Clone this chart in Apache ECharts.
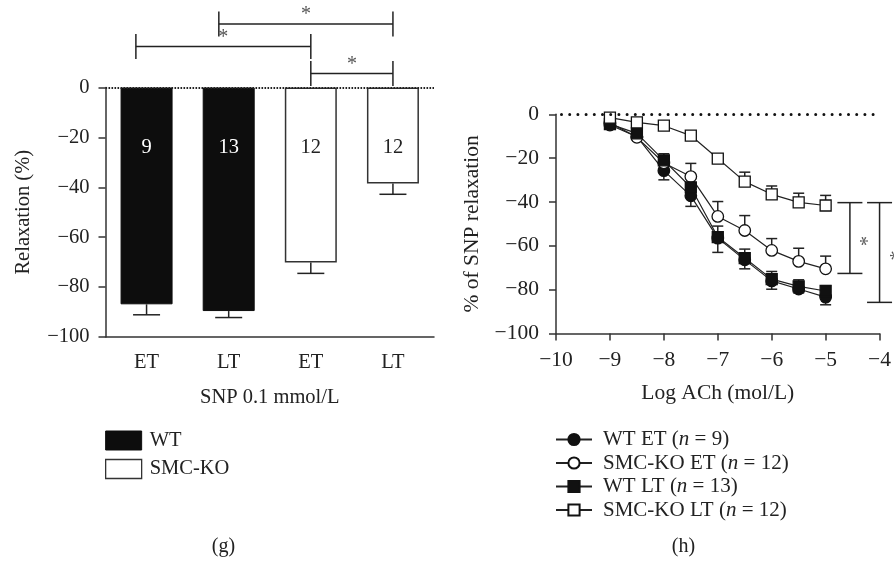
<!DOCTYPE html>
<html>
<head>
<meta charset="UTF-8"/>
<title>relaxation</title>
<script src="https://cdn.jsdelivr.net/npm/echarts@6/dist/echarts.min.js"></script>
<style>
    html, body { margin: 0; background: #fff; }
    #main { width: 894px; height: 567px; }
</style>
</head>
<body>
<div id="main"></div>
<script>
// ---- panel (g): SNP bars ----
var barCats = ['ET', 'LT', 'ET', 'LT'];
var wtBars = [-86.9, -89.6, '-', '-'];
var koBars = ['-', '-', -70.1, -38.5];
var barErr = [4.2, 2.6, 4.4, 4.3];
var barN = [9, 13, 12, 12];
var yTicksG = [0, -20, -40, -60, -80, -100];
// brackets: [from, to, level]
var sigG = [[0.88, 3, 25.5], [-0.13, 2, 16.4], [2, 3, 5.6]];

// ---- panel (h): ACh curves ----
var logAch = [-9, -8.5, -8, -7.5, -7, -6.5, -6, -5.5, -5];
var xTicksH = [-10, -9, -8, -7, -6, -5, -4];
var lineNames = ['WT ET', 'SMC-KO ET', 'WT LT', 'SMC-KO LT'];
var nCounts = [9, 12, 13, 12];
var wtEt = [-4.9, -10.2, -25.7, -37.2, -56.5, -66.4, -76.0, -79.7, -83.4];
var koEt = [-3.8, -10.5, -22.2, -28.4, -46.6, -53.0, -62.1, -67.1, -70.5];
var wtLt = [-4.5, -8.7, -21.0, -33.3, -56.0, -65.6, -75.2, -78.5, -80.6];
var koLt = [-1.5, -3.7, -5.2, -9.7, -20.2, -30.7, -36.5, -40.2, -41.6];
var wtEtErr = [1, 1, 4.2, 4.8, 6.5, 4.1, 3.8, 1.8, 3.5];
var koEtErr = [1, 1, 2, 6, 6.8, 6.8, 5.4, 6, 5.8];
var wtLtErr = [1, 1, 3, 4, 5, 4.1, 3.5, 3, 2.4];
var koLtErr = [1, 1, 1, 1, 1.5, 4.3, 3.8, 4.2, 4.6];
var errDir = [-1, 1, 1, 1];
// brackets: [x, from, to]
var sigH = [[-4.55, -40.3, -72.6], [-4.0, -40.3, -85.8]];

var FONT = 'Liberation Serif';
var INK = '#222';
var FS_G = 20.5;
var FS_H = 21.5;

function minus(v) {
    return v < 0 ? '\u2212' + (-v) : String(v);
}

var chart = echarts.init(document.getElementById('main'));

var curves = [wtEt, koEt, wtLt, koLt];
var curveErr = [wtEtErr, koEtErr, wtLtErr, koLtErr];
var filled = [true, false, true, false];
var shapes = ['circle', 'circle', 'rect', 'rect'];

var lineSeries = lineNames.map(function (name, k) {
    var s = {
        name: name,
        type: 'line',
        xAxisIndex: 2,
        yAxisIndex: 1,
        data: logAch.map(function (x, i) { return [x, curves[k][i]]; }),
        symbol: shapes[k],
        symbolSize: shapes[k] === 'rect' ? 11 : 11.5,
        lineStyle: { color: INK, width: 1.2 },
        itemStyle: {
            color: filled[k] ? '#111' : '#fff',
            borderColor: '#111',
            borderWidth: 1.3
        },
        emphasis: { disabled: true },
        z: 4,
        animation: false
    };
    if (k === 0) {
        s.markLine = {
            silent: true,
            symbol: 'none',
            label: { show: false },
            lineStyle: { color: '#111', width: 3, type: [0, 8.2], cap: 'round', dashOffset: -5.5 },
            data: [{ yAxis: 0 }]
        };
    }
    return s;
});

var errDataH = [];
curves.forEach(function (c, k) {
    c.forEach(function (v, i) {
        errDataH.push([logAch[i], v, curveErr[k][i], errDir[k]]);
    });
});

function seg(x1, y1, x2, y2) {
    return {
        type: 'line',
        shape: { x1: x1, y1: y1, x2: x2, y2: y2 },
        style: { stroke: INK, lineWidth: 1.5 }
    };
}

function star(x, y, rot) {
    return {
        type: 'text',
        x: x, y: y,
        rotation: rot || 0,
        style: {
            text: '*', fill: '#555',
            font: '20px "' + FONT + '"',
            align: 'center', verticalAlign: 'middle'
        }
    };
}

var axisLineStyle = { color: '#333', width: 1.5 };

var option = {
    animation: false,
    textStyle: { fontFamily: FONT, color: INK },
    grid: [
        { left: 105.5, top: 87.5, width: 328.5, height: 249.5 },
        { left: 556, top: 114.3, width: 328.5, height: 219.2 }
    ],
    xAxis: [
        {
            type: 'category', gridIndex: 0, data: barCats,
            name: 'SNP 0.1 mmol/L', nameLocation: 'middle', nameGap: 50,
            nameTextStyle: { fontSize: FS_G, color: INK, fontFamily: FONT },
            axisLine: { onZero: false, lineStyle: axisLineStyle },
            axisTick: { alignWithLabel: true, length: 7, lineStyle: axisLineStyle },
            axisLabel: { fontSize: FS_G, color: INK, margin: 15, fontFamily: FONT },
            splitLine: { show: false }
        },
        {
            type: 'value', gridIndex: 0, min: -0.5, max: 3.5, show: false,
            axisLine: { onZero: false }
        },
        {
            type: 'value', gridIndex: 1, min: -10, max: -4, interval: 1,
            name: 'Log ACh (mol/L)', nameLocation: 'middle', nameGap: 49,
            nameTextStyle: { fontSize: FS_H, color: INK, fontFamily: FONT },
            axisLine: { onZero: false, lineStyle: axisLineStyle },
            axisTick: { length: 7, lineStyle: axisLineStyle },
            axisLabel: {
                fontSize: FS_H, color: INK, margin: 16, fontFamily: FONT,
                formatter: function (v) { return xTicksH.indexOf(v) >= 0 ? minus(v) : ''; }
            },
            splitLine: { show: false }
        }
    ],
    yAxis: [
        {
            type: 'value', gridIndex: 0, min: -100, max: 0, interval: 20,
            name: 'Relaxation (%)', nameLocation: 'middle', nameGap: 71,
            nameTextStyle: { fontSize: FS_G, color: INK, fontFamily: FONT },
            axisLine: { show: true, onZero: false, lineStyle: axisLineStyle },
            axisTick: { show: true, length: 7, lineStyle: axisLineStyle },
            axisLabel: {
                fontSize: FS_G, color: INK, margin: 16, fontFamily: FONT,
                formatter: function (v) { return yTicksG.indexOf(v) >= 0 ? minus(v) : ''; }
            },
            splitLine: { show: false }
        },
        {
            type: 'value', gridIndex: 1, min: -100, max: 0, interval: 20,
            name: '% of SNP relaxation', nameLocation: 'middle', nameGap: 73,
            nameTextStyle: { fontSize: FS_H, color: INK, fontFamily: FONT },
            axisLine: { show: true, onZero: false, lineStyle: axisLineStyle },
            axisTick: { show: true, length: 7, lineStyle: axisLineStyle },
            axisLabel: { fontSize: FS_H, color: INK, margin: 17, fontFamily: FONT, formatter: minus },
            splitLine: { show: false }
        }
    ],
    legend: [
        {
            data: [
                { name: 'WT', itemStyle: { color: '#0d0d0d', borderColor: '#0d0d0d', borderWidth: 1 } },
                { name: 'SMC-KO', itemStyle: { color: '#fff', borderColor: '#333', borderWidth: 1.3 } }
            ],
            orient: 'vertical', left: 105, top: 430, padding: 0,
            icon: 'rect', itemWidth: 36, itemHeight: 19, itemGap: 7.5,
            selectedMode: false,
            textStyle: { fontSize: FS_G, color: INK, fontFamily: FONT, padding: [0, 0, 0, 3] }
        },
        {
            data: lineNames,
            orient: 'vertical', left: 555, top: 429, padding: 0,
            itemWidth: 36, itemHeight: 14, itemGap: 2.5,
            selectedMode: false,
            formatter: function (name) {
                var i = lineNames.indexOf(name);
                return '{t|' + name + ' (}{i|n}{t| = ' + nCounts[i] + ')}';
            },
            textStyle: {
                padding: [0, 0, 0, 6],
                rich: {
                    t: { fontSize: 21, lineHeight: 21, color: INK, fontFamily: FONT },
                    i: { fontSize: 21, lineHeight: 21, color: INK, fontFamily: FONT, fontStyle: 'italic' }
                }
            }
        }
    ],
    graphic: [
        { type: 'text', x: 223.5, y: 547, style: { text: '(g)', font: '20px "' + FONT + '"', fill: INK, align: 'center', verticalAlign: 'middle' } },
        { type: 'text', x: 683.5, y: 547, style: { text: '(h)', font: '20px "' + FONT + '"', fill: INK, align: 'center', verticalAlign: 'middle' } }
    ],
    series: [
        {
            name: 'WT', type: 'bar', xAxisIndex: 0, yAxisIndex: 0,
            data: wtBars, barWidth: 52, barGap: '-100%',
            itemStyle: { color: '#0d0d0d', borderColor: '#0d0d0d', borderWidth: 1 },
            label: {
                show: true, position: 'insideTop', distance: 50,
                fontSize: FS_G, fontFamily: FONT, color: '#fff',
                formatter: function (p) { return barN[p.dataIndex]; }
            },
            emphasis: { disabled: true },
            markLine: {
                silent: true, symbol: 'none', label: { show: false },
                lineStyle: { color: '#222', width: 2, type: [1.6, 1.4] },
                data: [{ yAxis: 0 }]
            }
        },
        {
            name: 'SMC-KO', type: 'bar', xAxisIndex: 0, yAxisIndex: 0,
            data: koBars, barWidth: 52,
            itemStyle: { color: '#fff', borderColor: '#333', borderWidth: 1.5 },
            label: {
                show: true, position: 'insideTop', distance: 50,
                fontSize: FS_G, fontFamily: FONT, color: INK,
                formatter: function (p) { return barN[p.dataIndex]; }
            },
            emphasis: { disabled: true }
        },
        {
            type: 'custom', xAxisIndex: 0, yAxisIndex: 0, silent: true, z: 5,
            data: barErr.map(function (e, i) {
                var v = wtBars[i] === '-' ? koBars[i] : wtBars[i];
                return [i, v, e];
            }),
            renderItem: function (params, api) {
                var a = api.coord([api.value(0), api.value(1)]);
                var b = api.coord([api.value(0), api.value(1) - api.value(2)]);
                return {
                    type: 'group',
                    children: [
                        seg(a[0], a[1], b[0], b[1]),
                        seg(b[0] - 13.5, b[1], b[0] + 13.5, b[1])
                    ]
                };
            }
        },
        {
            type: 'custom', xAxisIndex: 1, yAxisIndex: 0, silent: true, z: 5,
            data: sigG,
            renderItem: function (params, api) {
                var a = api.coord([api.value(0), api.value(2)]);
                var b = api.coord([api.value(1), api.value(2)]);
                return {
                    type: 'group',
                    children: [
                        seg(a[0], a[1], b[0], b[1]),
                        seg(a[0], a[1] - 12.5, a[0], a[1] + 12.5),
                        seg(b[0], b[1] - 12.5, b[0], b[1] + 12.5),
                        star((a[0] + b[0]) / 2, a[1] - 9)
                    ]
                };
            }
        },
        {
            type: 'custom', xAxisIndex: 2, yAxisIndex: 1, silent: true, z: 3,
            data: errDataH,
            renderItem: function (params, api) {
                var a = api.coord([api.value(0), api.value(1)]);
                var b = api.coord([api.value(0), api.value(1) + api.value(3) * api.value(2)]);
                return {
                    type: 'group',
                    children: [
                        seg(a[0], a[1], b[0], b[1]),
                        seg(b[0] - 5.5, b[1], b[0] + 5.5, b[1])
                    ]
                };
            }
        },
        {
            type: 'custom', xAxisIndex: 2, yAxisIndex: 1, silent: true, z: 5,
            data: sigH,
            renderItem: function (params, api) {
                var a = api.coord([api.value(0), api.value(1)]);
                var b = api.coord([api.value(0), api.value(2)]);
                return {
                    type: 'group',
                    children: [
                        seg(a[0], a[1], b[0], b[1]),
                        seg(a[0] - 12.5, a[1], a[0] + 12.5, a[1]),
                        seg(b[0] - 12.5, b[1], b[0] + 12.5, b[1]),
                        star(a[0] + 19, (a[1] + b[1]) / 2 + 3, Math.PI / 2)
                    ]
                };
            }
        }
    ].concat(lineSeries)
};

chart.setOption(option);
</script>
</body>
</html>
